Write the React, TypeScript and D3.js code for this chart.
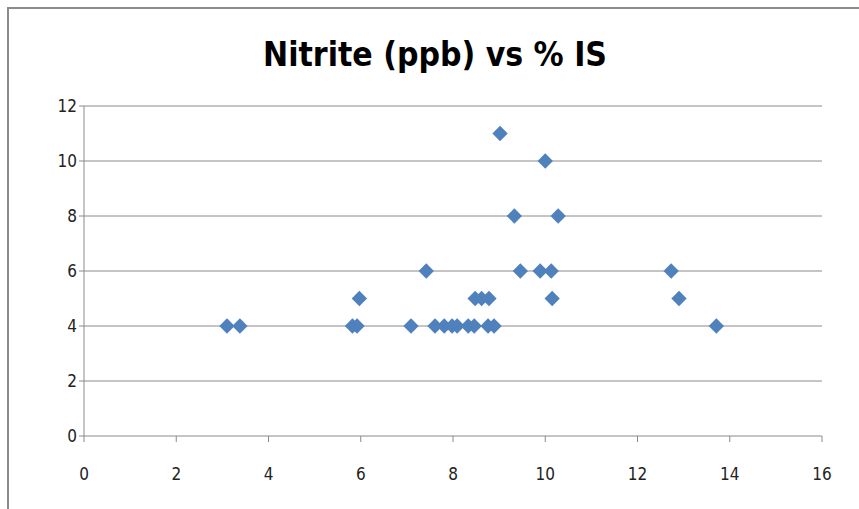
import React from "react";
import * as d3 from "d3";

const title = "Nitrite (ppb) vs % IS";
const isPercent = [3.1, 3.38, 5.82, 5.92, 5.97, 7.09, 7.42, 7.61, 7.81, 7.98, 8.09, 8.33, 8.46, 8.48, 8.62, 8.76, 8.78, 8.89, 9.02, 9.33, 9.46, 9.89, 10.0, 10.13, 10.15, 10.28, 12.73, 12.9, 13.71];
const nitrite = [4, 4, 4, 4, 5, 4, 6, 4, 4, 4, 4, 4, 4, 5, 5, 4, 5, 4, 11, 8, 6, 6, 10, 6, 5, 8, 6, 5, 4];
const xTicks = [0, 2, 4, 6, 8, 10, 12, 14, 16];
const yTicks = [0, 2, 4, 6, 8, 10, 12];

export default function App() {
  const W = 859, H = 509;
  const left = 84, right = 822, top = 106, bottom = 436;
  const x = d3.scaleLinear().domain([0, 16]).range([left, right]);
  const y = d3.scaleLinear().domain([0, 12]).range([bottom, top]);
  const diamond = d3.symbol().type(d3.symbolDiamond2).size(150)() as string;
  const font = "'DejaVu Sans Condensed', 'Liberation Sans', sans-serif";
  return (
    <div style={{ position: "absolute", left: 0, top: 0, width: W, height: H, background: "#fff" }}>
      <svg width={W} height={H} style={{ display: "block" }}>
        <rect x={7} y={7} width={W} height={2} fill="#8c8c8c" />
        <rect x={7} y={7} width={2} height={H} fill="#8c8c8c" />
        <text x={435} y={66} textAnchor="middle" fontFamily={font} fontWeight="bold" fontSize={33} fill="#000" textLength={344} lengthAdjust="spacingAndGlyphs">{title}</text>
        {yTicks.map(t => (
          <g key={"y" + t}>
            <line x1={left - 5} x2={right} y1={y(t)} y2={y(t)} stroke="#8a8a8a" strokeWidth={1} />
            <text x={left - 7} y={y(t)} dy="0.35em" textAnchor="end" fontFamily={font} fontSize={17} fill="#222">{t}</text>
          </g>
        ))}
        <line x1={left} x2={left} y1={top} y2={bottom} stroke="#8a8a8a" strokeWidth={1} />
        {xTicks.map(t => (
          <g key={"x" + t}>
            <line x1={x(t)} x2={x(t)} y1={bottom} y2={bottom + 6} stroke="#8a8a8a" strokeWidth={1} />
            <text x={x(t)} y={474} dy="0.35em" textAnchor="middle" fontFamily={font} fontSize={17} fill="#222">{t}</text>
          </g>
        ))}
        {isPercent.map((v, i) => (
          <path key={i} d={diamond} transform={`translate(${x(v)},${y(nitrite[i])})`} fill="#4f81bd" />
        ))}
      </svg>
    </div>
  );
}
